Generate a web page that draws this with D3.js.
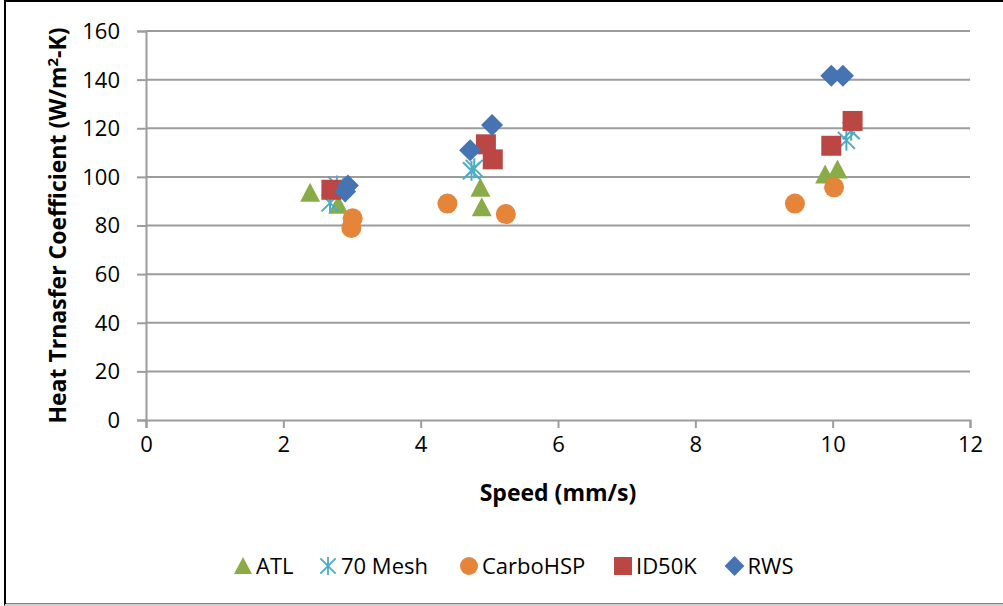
<!DOCTYPE HTML>
<html lang="en">
<head>
<meta charset="UTF-8">
<title>Heat Transfer Coefficient vs Speed</title>
<script type="text/javascript" src="https://d3js.org/d3.v7.min.js"></script>
<style>
    body { margin: 0; background: #ffffff; }
    text { font-family: "Open Sans", "DejaVu Sans", sans-serif; fill: #000; }
    .grid { stroke: #9c9c9c; stroke-width: 2; }
    .axis-title { font-weight: bold; font-size: 23px; }
</style>
</head>
<body>
<svg width="1003" height="606"></svg>
<script>
// series values (speed in mm/s, h in W/m2-K)
var seriesNames = ["ATL", "70 Mesh", "CarboHSP", "ID50K", "RWS"];
var speedATL = [2.39, 2.80, 4.87, 4.89, 9.89, 10.07];
var htcATL   = [93.5, 88.5, 95.5, 87.5, 101, 103];
var speedMesh = [2.68, 2.78, 4.74, 4.78, 10.20, 10.27];
var htcMesh   = [89.3, 96.5, 102.5, 103.5, 115, 119];
var speedCarbo = [3.01, 2.99, 4.39, 5.24, 9.45, 10.02];
var htcCarbo   = [83, 79, 89, 84.7, 89, 95.7];
var speedID = [2.70, 4.95, 5.05, 9.98, 10.29];
var htcID   = [94.7, 113.4, 107.2, 112.8, 123];
var speedRWS = [2.94, 2.90, 4.72, 5.04, 9.98, 10.15];
var htcRWS   = [96.5, 94, 111, 121.3, 141.6, 141.6];
var xTicks = [0, 2, 4, 6, 8, 10, 12];
var yTicks = [0, 20, 40, 60, 80, 100, 120, 140, 160];

var colors = ["#8aac48", "#4bacc6", "#e5853a", "#bb4744", "#4674b3"];
var shapes = ["triangle", "asterisk", "circle", "square", "diamond"];
var xs = [speedATL, speedMesh, speedCarbo, speedID, speedRWS];
var ys = [htcATL, htcMesh, htcCarbo, htcID, htcRWS];

var svg = d3.select("svg");
var plot = {left: 146, right: 970, top: 31, bottom: 420};

// outer chart border (only top and left show inside the picture)
svg.append("rect")
    .attr("x", 5).attr("y", 1)
    .attr("width", 1010).attr("height", 603.5)
    .attr("fill", "none")
    .attr("stroke", "#000")
    .attr("stroke-width", 2);
svg.append("line")
    .attr("x1", 5).attr("x2", 1003).attr("y1", 605).attr("y2", 605)
    .attr("stroke", "#d0d0d0").attr("stroke-width", 2);

var xScale = d3.scaleLinear().domain([0, 12]).range([plot.left, plot.right]);
var yScale = d3.scaleLinear().domain([0, 160]).range([plot.bottom, plot.top]);

// horizontal gridlines
svg.append("g").selectAll("line")
    .data(yTicks.filter(function(d){ return d > 0; }))
    .enter().append("line")
    .attr("class", "grid")
    .attr("x1", plot.left).attr("x2", plot.right)
    .attr("y1", function(d){ return yScale(d); })
    .attr("y2", function(d){ return yScale(d); });

// y axis
var yAxis = d3.axisLeft(yScale).tickValues(yTicks).tickSize(9).tickPadding(17);
var gy = svg.append("g")
    .attr("transform", "translate(" + plot.left + ",0)")
    .call(yAxis);
gy.select(".domain").attr("stroke", "#9c9c9c").attr("stroke-width", 2);
gy.selectAll(".tick line").attr("stroke", "#9c9c9c").attr("stroke-width", 2);
gy.selectAll(".tick text").attr("font-size", "22px").attr("font-family", "Open Sans").attr("dy", "0.34em");

// x axis
var xAxis = d3.axisBottom(xScale).tickValues(xTicks).tickSize(8).tickPadding(8);
var gx = svg.append("g")
    .attr("transform", "translate(0," + plot.bottom + ")")
    .call(xAxis);
gx.select(".domain").attr("stroke", "#9c9c9c").attr("stroke-width", 2);
gx.selectAll(".tick line").attr("stroke", "#9c9c9c").attr("stroke-width", 2);
gx.selectAll(".tick text").attr("font-size", "22px").attr("font-family", "Open Sans");

// axis titles
svg.append("text")
    .attr("class", "axis-title")
    .attr("transform", "translate(66," + ((plot.top + plot.bottom) / 2) + ") rotate(-90)")
    .attr("text-anchor", "middle")
    .html("Heat Trnasfer Coefficient (W/m<tspan dy='-8' font-size='15px'>2</tspan><tspan dy='8'>-K)</tspan>");

svg.append("text")
    .attr("class", "axis-title")
    .attr("x", (plot.left + plot.right) / 2)
    .attr("y", 501)
    .attr("text-anchor", "middle")
    .text("Speed (mm/s)");

// draw one marker at (cx, cy)
function marker(g, shape, color, cx, cy) {
    if (shape == "triangle") {
        g.append("path")
            .attr("d", "M" + cx + "," + (cy - 10) + "L" + (cx + 10) + "," + (cy + 9) + "L" + (cx - 10) + "," + (cy + 9) + "Z")
            .attr("fill", color);
    } else if (shape == "circle") {
        g.append("circle").attr("cx", cx).attr("cy", cy).attr("r", 10).attr("fill", color);
    } else if (shape == "square") {
        g.append("rect").attr("x", cx - 10).attr("y", cy - 10)
            .attr("width", 20).attr("height", 20).attr("fill", color);
    } else if (shape == "diamond") {
        g.append("path")
            .attr("d", "M" + cx + "," + (cy - 11) + "L" + (cx + 11) + "," + cy + "L" + cx + "," + (cy + 11) + "L" + (cx - 11) + "," + cy + "Z")
            .attr("fill", color);
    } else {
        // asterisk: vertical stroke plus an X
        var r = 10;
        g.append("path")
            .attr("d", "M" + cx + "," + (cy - r) + "L" + cx + "," + (cy + r) +
                "M" + (cx - 8.5) + "," + (cy - 8.5) + "L" + (cx + 8.5) + "," + (cy + 8.5) +
                "M" + (cx - 8.5) + "," + (cy + 8.5) + "L" + (cx + 8.5) + "," + (cy - 8.5))
            .attr("stroke", color).attr("stroke-width", 2).attr("fill", "none");
    }
}

// points, series drawn in order so later ones sit on top
var points = svg.append("g");
seriesNames.forEach(function(name, i) {
    var g = points.append("g").attr("class", "series");
    xs[i].forEach(function(x, j) {
        marker(g, shapes[i], colors[i], xScale(x), yScale(ys[i][j]));
    });
});

// legend
var legendX = [243, 328, 469, 623, 734.5];
var legend = svg.append("g");
seriesNames.forEach(function(name, i) {
    var g = legend.append("g");
    var s = 0.9;
    var lg = g.append("g")
        .attr("transform", "translate(" + legendX[i] + ",566) scale(" + s + ") translate(" + (-legendX[i]) + ",-566)");
    marker(lg, shapes[i], colors[i], legendX[i], 566);
    g.append("text")
        .attr("x", legendX[i] + 13)
        .attr("y", 574)
        .attr("font-size", "22px")
        .text(name);
});
</script>
</body>
</html>
